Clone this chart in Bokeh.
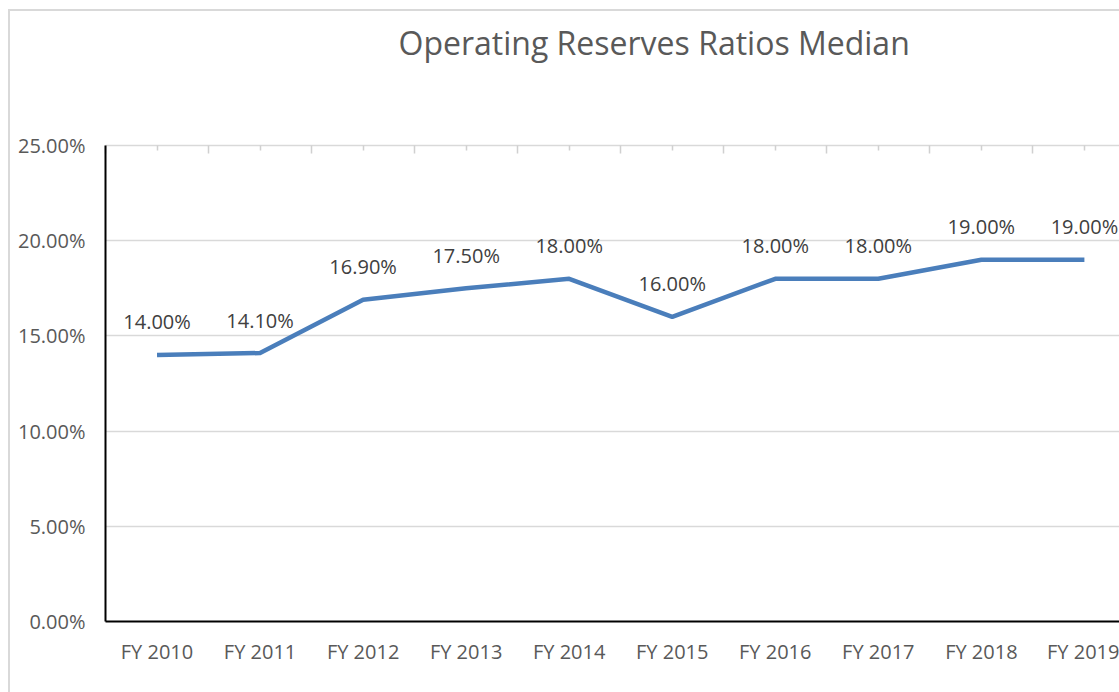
from bokeh.plotting import figure
from bokeh.models import (LinearAxis, FixedTicker, NumeralTickFormatter, Range1d,
                          ColumnDataSource, Title)
from bokeh.core.properties import value
from bokeh.embed import file_html
from bokeh.resources import INLINE

categories = ["FY 2010", "FY 2011", "FY 2012", "FY 2013", "FY 2014",
              "FY 2015", "FY 2016", "FY 2017", "FY 2018", "FY 2019"]
ratios = [0.14, 0.141, 0.169, 0.175, 0.18, 0.16, 0.18, 0.18, 0.19, 0.19]
y_ticks = [0, 0.05, 0.10, 0.15, 0.20, 0.25]
title_text = "Operating Reserves Ratios Median"

xs = list(range(len(categories)))
labels = [f"{v * 100:.2f}%" for v in ratios]
src = ColumnDataSource(dict(x=xs, y=ratios, lab=labels))

FONT = "Open Sans"
GRAY = "#595959"

p = figure(width=1111, height=683, output_backend="svg", toolbar_location=None,
           x_range=Range1d(-0.5, 9.36), y_range=Range1d(0, 0.25),
           x_axis_location=None, y_axis_location=None,
           min_border_left=95, min_border_top=134, min_border_bottom=73,
           min_border_right=0, outline_line_color=None,
           margin=(9, 0, 0, 8))
p.styles = {"border-left": "2px solid #D9D9D9", "border-top": "2px solid #D9D9D9"}

# left axis
yax = LinearAxis(ticker=FixedTicker(ticks=y_ticks),
                 formatter=NumeralTickFormatter(format="0.00%"))
yax.axis_line_color = "black"
yax.axis_line_width = 2
yax.major_tick_line_color = None
yax.minor_tick_line_color = None
yax.major_label_standoff = 14
yax.major_label_text_font = FONT
yax.major_label_text_font_size = "20px"
yax.major_label_text_color = GRAY
p.add_layout(yax, "left")

# bottom axis
xax = LinearAxis(ticker=FixedTicker(ticks=xs),
                 major_label_overrides={i: c for i, c in enumerate(categories)})
xax.axis_line_color = "black"
xax.axis_line_width = 2
xax.major_tick_line_color = None
xax.minor_tick_line_color = None
xax.major_label_standoff = 10
xax.major_label_text_font = FONT
xax.major_label_text_font_size = "20px"
xax.major_label_text_color = GRAY
p.add_layout(xax, "below")

# top tick axis
tax = LinearAxis(ticker=FixedTicker(ticks=[i - 0.5 for i in range(len(categories) + 1)],
                                    minor_ticks=xs))
tax.axis_line_color = "#D9D9D9"
tax.axis_line_width = 1.5
tax.major_tick_line_color = "#D0D0D0"
tax.major_tick_line_width = 1.5
tax.major_tick_in = 8
tax.major_tick_out = 0
tax.minor_tick_line_color = "#D0D0D0"
tax.minor_tick_line_width = 1.5
tax.minor_tick_in = 5
tax.minor_tick_out = 0
tax.major_label_text_color = None
tax.major_label_text_font_size = "1px"
tax.major_label_standoff = 0
p.add_layout(tax, "above")

# invisible spacer between the plot and the title
spacer = LinearAxis(ticker=FixedTicker(ticks=[0]))
spacer.axis_line_color = None
spacer.major_tick_line_color = None
spacer.major_tick_in = 0
spacer.major_tick_out = 80
spacer.minor_tick_line_color = None
spacer.major_label_text_color = None
spacer.major_label_text_font_size = "1px"
spacer.major_label_standoff = 0
p.add_layout(spacer, "above")

p.xgrid.grid_line_color = None
p.ygrid.ticker = FixedTicker(ticks=y_ticks)
p.ygrid.grid_line_color = "#D9D9D9"
p.ygrid.grid_line_width = 1.5

p.line("x", "y", source=src, line_color="#4A7EBB", line_width=4.5, line_join="round")
p.text("x", "y", text="lab", source=src, text_align="center", text_baseline="middle",
       y_offset=-33, text_font=value(FONT), text_font_size="20px", text_color="#404040")

t = Title(text=title_text, align="left", offset=293, text_font=FONT,
          text_font_size="32px", text_font_style="normal", text_color=GRAY,
          standoff=0, vertical_align="top")
p.add_layout(t, "above")

open("out.html", "w").write(file_html(p, INLINE))
